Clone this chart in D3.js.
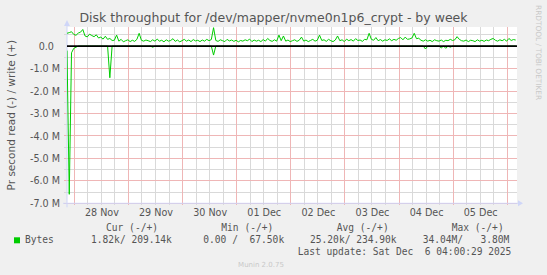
<!DOCTYPE html>
<html>
<head>
<meta charset="utf-8">
<script src="https://cdn.jsdelivr.net/npm/d3@7"></script>
<style>
body { margin: 0; background: #f0f0f0; }
svg { display: block; font-family: "DejaVu Sans", sans-serif; }
.mono { font-family: "DejaVu Sans Mono", monospace; }
</style>
</head>
<body>
<svg id="chart" width="547" height="275"></svg>
<script>
// time range of the week graph (UTC)
var startTime = Date.UTC(2025, 10, 27, 20, 45);
var endTime = Date.UTC(2025, 11, 6, 4, 20);
var stepHours = 1;

// write (+), M bytes per second, one value per hour
var writeValues = [
  0.57, 0.60, 0.64, 0.52, 0.48, 0.58, 0.62, 0.74, 0.45, 0.41, 0.53, 0.47, 0.42, 0.50, 0.36, 0.40, 0.31, 0.44, 0.30, 0.34,
  0.25, 0.26, 0.49, 0.22, 0.30, 0.19, 0.24, 0.28, 0.20, 0.26, 0.21, 0.30, 0.57, 0.26, 0.22, 0.27, 0.24, 0.20, 0.28, 0.22,
  0.31, 0.22, 0.26, 0.19, 0.28, 0.22, 0.25, 0.33, 0.21, 0.27, 0.19, 0.24, 0.30, 0.22, 0.27, 0.20, 0.29, 0.23, 0.26, 0.20,
  0.27, 0.22, 0.30, 0.24, 0.29, 0.82, 0.25, 0.21, 0.28, 0.24, 0.20, 0.30, 0.23, 0.27, 0.21, 0.26, 0.19, 0.25, 0.22, 0.28,
  0.24, 0.31, 0.20, 0.27, 0.22, 0.26, 0.20, 0.29, 0.22, 0.34, 0.25, 0.21, 0.28, 0.22, 0.49, 0.24, 0.45, 0.22, 0.27, 0.20,
  0.24, 0.28, 0.21, 0.26, 0.40, 0.22, 0.27, 0.20, 0.25, 0.30, 0.22, 0.26, 0.49, 0.25, 0.28, 0.21, 0.30, 0.24, 0.20, 0.27,
  0.45, 0.24, 0.28, 0.20, 0.31, 0.24, 0.29, 0.22, 0.33, 0.25, 0.27, 0.21, 0.30, 0.28, 0.57, 0.30, 0.26, 0.38, 0.24, 0.29,
  0.22, 0.28, 0.25, 0.32, 0.24, 0.30, 0.26, 0.34, 0.38, 0.28, 0.40, 0.30, 0.32, 0.36, 0.57, 0.33, 0.35, 0.26, 0.22, 0.28,
  0.22, 0.26, 0.20, 0.28, 0.24, 0.22, 0.27, 0.20, 0.26, 0.24, 0.30, 0.25, 0.28, 0.42, 0.30, 0.24, 0.22, 0.27, 0.20, 0.26,
  0.24, 0.20, 0.28, 0.22, 0.26, 0.21, 0.27, 0.24, 0.30, 0.34, 0.26, 0.22, 0.28, 0.24, 0.30, 0.22, 0.34, 0.25, 0.29, 0.27
];

// read (-), M bytes per second, one value per hour
var readValues = [
  -0.2, -6.6, -0.3, -0.1, -0.05, 0, 0, 0, 0, 0, 0, 0, 0, 0, 0, 0, 0, 0, 0, -1.41,
  0, 0, 0, 0, 0, 0, 0, 0, 0, 0, 0, 0, 0, 0, 0, 0, 0, 0, -0.05, 0,
  0, 0, 0, 0, 0, 0, 0, 0, 0, 0, 0, 0, 0, 0, 0, 0, 0, 0, 0, 0,
  0, 0, 0, 0, 0, -0.4, 0, 0, 0, 0, 0, 0, 0, 0, 0, 0, 0, 0, 0, 0,
  0, 0, 0, 0, 0, 0, 0, 0, 0, 0, 0, 0, 0, 0, 0, 0, 0, 0, 0, 0,
  0, 0, 0, 0, 0, 0, 0, 0, 0, 0, 0, 0, 0, 0, 0, 0, 0, 0, 0, 0,
  0, 0, 0, 0, 0, 0, 0, 0, 0, 0, 0, 0, 0, 0, 0, 0, 0, 0, 0, 0,
  0, 0, 0, 0, 0, 0, 0, 0, 0, 0, 0, 0, 0, 0, 0, 0, 0, 0, 0, -0.13,
  0, 0, 0, 0, 0, 0, -0.08, 0, -0.1, 0, -0.05, 0, 0, 0, 0, 0, 0, 0, 0, 0,
  0, 0, 0, 0, 0, 0, 0, 0, 0, 0, 0, 0, 0, 0, 0, 0, 0, 0, 0, 0
];

var yTicks = [0, -1, -2, -3, -4, -5, -6, -7];
var yTickLabels = ["0.0\u00a0\u00a0", "-1.0 M", "-2.0 M", "-3.0 M", "-4.0 M", "-5.0 M", "-6.0 M", "-7.0 M"];
var dayLabels = ["28 Nov", "29 Nov", "30 Nov", "01 Dec", "02 Dec", "03 Dec", "04 Dec", "05 Dec"];

var legendHeaders = ["Cur (-/+)", "Min (-/+)", "Avg (-/+)", "Max (-/+)"];
var legendValues = ["1.82k/ 209.14k", "0.00 /  67.50k", "25.20k/ 234.90k", "34.04M/   3.80M"];
var lastUpdate = "Last update: Sat Dec  6 04:00:29 2025";

var plot = {left: 67, right: 517, top: 27, bottom: 203.3};
var green = "#00cc00";
var textColor = "#555";

// keep runs of spaces in the monospace legend
function keepSpaces(s) { return s.replace(/ /g, "\u00a0"); }

var svg = d3.select("#chart");

var x = d3.scaleUtc()
    .domain([new Date(startTime), new Date(endTime)])
    .range([plot.left, plot.right]);

var y = d3.scaleLinear()
    .domain([-7, 0.85])
    .range([plot.bottom, plot.top]);

// canvas
svg.append("rect")
    .attr("x", plot.left).attr("y", plot.top)
    .attr("width", plot.right - plot.left)
    .attr("height", plot.bottom - plot.top)
    .attr("fill", "#fff");

svg.append("defs").append("clipPath").attr("id", "clip")
  .append("rect")
    .attr("x", plot.left).attr("y", plot.top)
    .attr("width", plot.right - plot.left)
    .attr("height", plot.bottom - plot.top);

// grid (dotted lines got lost in the screenshot, so light solid ones)
var minorColor = "#d9d9d9";
var majorColor = "#efb6b6";

var hMinor = d3.range(-6.5, 0.6, 1);
var vMinor = d3.utcHour.every(6).range(x.domain()[0], x.domain()[1]);
var hMajor = yTicks.filter(d => d !== 0);
var vMajor = d3.utcDay.range(x.domain()[0], x.domain()[1]);

var grid = svg.append("g").attr("shape-rendering", "crispEdges");
grid.selectAll("line.hminor").data(hMinor).enter().append("line")
    .attr("class", "hminor")
    .attr("x1", plot.left - 3).attr("x2", plot.right)
    .attr("y1", d => Math.floor(y(d)) + 0.5).attr("y2", d => Math.floor(y(d)) + 0.5)
    .attr("stroke", minorColor);
grid.selectAll("line.vminor").data(vMinor).enter().append("line")
    .attr("class", "vminor")
    .attr("x1", d => Math.floor(x(d)) + 0.5).attr("x2", d => Math.floor(x(d)) + 0.5)
    .attr("y1", plot.top).attr("y2", plot.bottom + 2)
    .attr("stroke", minorColor);
grid.selectAll("line.hmajor").data(hMajor).enter().append("line")
    .attr("class", "hmajor")
    .attr("x1", plot.left - 3).attr("x2", plot.right)
    .attr("y1", d => Math.floor(y(d)) + 0.5).attr("y2", d => Math.floor(y(d)) + 0.5)
    .attr("stroke", majorColor);
grid.selectAll("line.vmajor").data(vMajor).enter().append("line")
    .attr("class", "vmajor")
    .attr("x1", d => Math.floor(x(d)) + 0.5).attr("x2", d => Math.floor(x(d)) + 0.5)
    .attr("y1", plot.top).attr("y2", plot.bottom + 2)
    .attr("stroke", majorColor);

// axis lines with arrows
var axisColor = "#cfd6f8";
svg.append("line")
    .attr("x1", plot.left - 4).attr("x2", plot.right + 2)
    .attr("y1", plot.bottom).attr("y2", plot.bottom)
    .attr("stroke", axisColor);
svg.append("line")
    .attr("x1", plot.left).attr("x2", plot.left)
    .attr("y1", plot.top - 2).attr("y2", plot.bottom + 4)
    .attr("stroke", axisColor);
svg.append("path")
    .attr("d", "M" + (plot.right + 1) + "," + (plot.bottom - 3) + "L" + (plot.right + 6) + "," + plot.bottom + "L" + (plot.right + 1) + "," + (plot.bottom + 3) + "Z")
    .attr("fill", axisColor);
svg.append("path")
    .attr("d", "M" + (plot.left - 3) + "," + (plot.top - 1) + "L" + plot.left + "," + (plot.top - 7) + "L" + (plot.left + 3) + "," + (plot.top - 1) + "Z")
    .attr("fill", axisColor);

// series
var seriesLine = d3.line()
    .x((d, i) => x(new Date(startTime + i * stepHours * 3600e3)))
    .y(d => y(d));

var series = svg.append("g").attr("clip-path", "url(#clip)");
series.append("path")
    .datum(readValues)
    .attr("d", seriesLine)
    .attr("fill", "none").attr("stroke", green).attr("stroke-width", 1);

series.append("line")
    .attr("x1", plot.left).attr("x2", plot.right)
    .attr("y1", y(0)).attr("y2", y(0))
    .attr("stroke", "#000").attr("stroke-width", 1.6);

series.append("path")
    .datum(writeValues)
    .attr("d", seriesLine)
    .attr("fill", "none").attr("stroke", green).attr("stroke-width", 1);

// y axis labels
var yAxis = svg.append("g")
    .attr("transform", "translate(" + plot.left + ",0)")
    .call(d3.axisLeft(y).tickValues(yTicks).tickSize(0).tickPadding(7)
        .tickFormat((d, i) => yTickLabels[i]));
yAxis.select(".domain").remove();
yAxis.selectAll("text")
    .attr("font-family", "DejaVu Sans").attr("font-size", "9.6px").attr("fill", textColor);

// x axis labels at noon
var noonTicks = dayLabels.map((d, i) => new Date(Date.UTC(2025, 10, 28 + i, 12)));
var xAxis = svg.append("g")
    .attr("transform", "translate(0," + plot.bottom + ")")
    .call(d3.axisBottom(x).tickValues(noonTicks).tickSize(0).tickPadding(6.2)
        .tickFormat((d, i) => dayLabels[i]));
xAxis.select(".domain").remove();
xAxis.selectAll("text")
    .attr("font-family", "DejaVu Sans").attr("font-size", "9.6px").attr("fill", textColor);

// title
svg.append("text")
    .attr("x", 273.5).attr("y", 22)
    .attr("text-anchor", "middle")
    .attr("font-size", "12.5px").attr("fill", textColor)
    .text("Disk throughput for /dev/mapper/nvme0n1p6_crypt - by week");

// vertical label
svg.append("text")
    .attr("transform", "translate(15," + ((plot.top + plot.bottom) / 2) + ") rotate(-90)")
    .attr("text-anchor", "middle")
    .attr("font-size", "10.5px").attr("fill", textColor)
    .text("Pr second read (-) / write (+)");

svg.append("text")
    .attr("transform", "translate(535.5,5) rotate(90)")
    .attr("font-size", "7.4px").attr("fill", "#c8c8c8")
    .text("RRDTOOL / TOBI OETIKER");

// legend
var headerX = [106, 221.3, 336.7, 451.7];
var valueX = [91, 203.3, 310, 422.7];
var legend = svg.append("g").attr("class", "mono").attr("font-size", "9.6px").attr("fill", textColor);
legend.selectAll("text.hdr").data(legendHeaders).enter().append("text")
    .attr("class", "hdr")
    .attr("x", (d, i) => headerX[i]).attr("y", 230.5)
    .text(d => keepSpaces(d));
legend.append("rect")
    .attr("x", 14).attr("y", 237.3).attr("width", 6).attr("height", 6)
    .attr("fill", green);
legend.append("text").attr("x", 25).attr("y", 243).text("Bytes");
legend.selectAll("text.val").data(legendValues).enter().append("text")
    .attr("class", "val")
    .attr("x", (d, i) => valueX[i]).attr("y", 243)
    .text(d => keepSpaces(d));
legend.append("text").attr("x", 297.7).attr("y", 254.5).text(keepSpaces(lastUpdate));

svg.append("text")
    .attr("x", 261).attr("y", 267)
    .attr("text-anchor", "middle")
    .attr("font-size", "7px").attr("fill", "#c8c8c8")
    .text("Munin 2.0.75");
</script>
</body>
</html>
